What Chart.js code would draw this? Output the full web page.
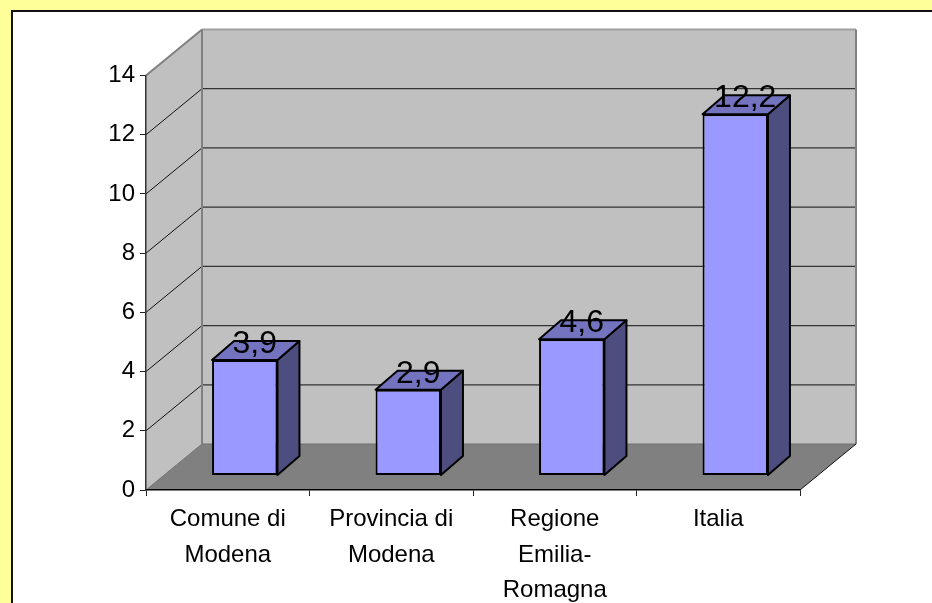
<!DOCTYPE html>
<html>
<head>
<meta charset="utf-8">
<style>
  html, body { margin: 0; padding: 0; width: 932px; height: 603px; overflow: hidden; background: #FFFF99; }
  #frame { position: absolute; left: 11px; top: 10px; right: 0; bottom: 0; background: #fff; border-left: 2px solid #111; border-top: 2px solid #111; }
  #wrap { position: absolute; left: 0; top: 0; width: 932px; height: 603px; }
</style>
<script src="https://cdn.jsdelivr.net/npm/chart.js@4"></script>
</head>
<body>
<div id="frame"></div>
<div id="wrap"><canvas id="chart"></canvas></div>
<script>
const categories = [['Comune di', 'Modena'], ['Provincia di', 'Modena'], ['Regione', 'Emilia-', 'Romagna'], ['Italia']];
const values = [3.9, 2.9, 4.6, 12.2];
const yMax = 14;
const yStep = 2;

// depth of the fake 3D box and how far the bars sit inside it
const depthX = 56, depthY = 46;
const barShiftX = 17, barShiftY = 14.5;
const barDepthX = 22, barDepthY = 19;

function poly(ctx, pts, fill, stroke, lineWidth) {
  ctx.beginPath();
  pts.forEach((p, i) => i ? ctx.lineTo(p[0], p[1]) : ctx.moveTo(p[0], p[1]));
  ctx.closePath();
  if (fill) { ctx.fillStyle = fill; ctx.fill(); }
  if (stroke) { ctx.strokeStyle = stroke; ctx.lineWidth = lineWidth; ctx.lineJoin = 'round'; ctx.stroke(); }
}

function line(ctx, x1, y1, x2, y2, color, width) {
  ctx.beginPath();
  ctx.moveTo(x1, y1);
  ctx.lineTo(x2, y2);
  ctx.strokeStyle = color;
  ctx.lineWidth = width;
  ctx.stroke();
}

const box3d = {
  id: 'box3d',
  beforeDraw(chart) {
    const ctx = chart.ctx;
    const { left, right, top, bottom } = chart.chartArea;
    const y = chart.scales.y;
    ctx.save();
    // back wall, side wall, floor
    poly(ctx, [[left + depthX, top - depthY], [right + depthX, top - depthY], [right + depthX, bottom - depthY], [left + depthX, bottom - depthY]], '#C0C0C0');
    poly(ctx, [[left, top], [left + depthX, top - depthY], [left + depthX, bottom - depthY], [left, bottom]], '#C0C0C0');
    poly(ctx, [[left, bottom], [left + depthX, bottom - depthY], [right + depthX, bottom - depthY], [right, bottom]], '#808080');

    y.ticks.forEach(t => {
      if (t.value === 0 || t.value === yMax) return;
      const py = y.getPixelForValue(t.value);
      line(ctx, left, py, left + depthX, py - depthY, '#111', 1);
      line(ctx, left + depthX, py - depthY, right + depthX, py - depthY, '#333', 1.2);
    });

    line(ctx, left + depthX, top - depthY, right + depthX, top - depthY, '#A0A0A0', 2);
    line(ctx, left + depthX, top - depthY, left + depthX, bottom - depthY, '#808080', 2);
    line(ctx, right + depthX, top - depthY, right + depthX, bottom - depthY, '#808080', 2);
    line(ctx, left, top, left + depthX, top - depthY, '#808080', 2);
    line(ctx, left, bottom, left + depthX, bottom - depthY, '#707070', 1);
    line(ctx, left + depthX, bottom - depthY, right + depthX, bottom - depthY, '#707070', 1);
    line(ctx, right, bottom, right + depthX, bottom - depthY, '#111', 1);
    ctx.restore();
  },
  beforeDatasetDraw(chart) {
    chart.ctx.save();
    chart.ctx.translate(barShiftX, -barShiftY);
  },
  afterDatasetDraw(chart, args) {
    const ctx = chart.ctx;
    args.meta.data.forEach(bar => {
      const l = bar.x - bar.width / 2, r = bar.x + bar.width / 2;
      const t = bar.y, b = bar.base;
      poly(ctx, [[r, t], [r + barDepthX, t - barDepthY], [r + barDepthX, b - barDepthY], [r, b]], '#4D4D80', '#000', 2);
      poly(ctx, [[l, t], [l + barDepthX, t - barDepthY], [r + barDepthX, t - barDepthY], [r, t]], '#7373BF', '#000', 2);
    });
    ctx.font = '32px "Liberation Sans"';
    ctx.fillStyle = '#000';
    ctx.textAlign = 'center';
    ctx.textBaseline = 'alphabetic';
    args.meta.data.forEach((bar, i) => {
      ctx.fillText(String(values[i]).replace('.', ','), bar.x + 10, bar.y - 7);
    });
    ctx.restore();
  }
};

new Chart(document.getElementById('chart'), {
  type: 'bar',
  data: {
    labels: categories,
    datasets: [{
      data: values,
      backgroundColor: '#9999FF',
      borderColor: '#000',
      borderWidth: 2,
      borderSkipped: false,
      barPercentage: 0.4,
      categoryPercentage: 1,
      clip: false
    }]
  },
  options: {
    responsive: true,
    maintainAspectRatio: false,
    animation: false,
    layout: { padding: { left: 0, top: 75.5, right: 132, bottom: 0 } },
    plugins: { legend: { display: false }, tooltip: { enabled: false } },
    scales: {
      x: {
        afterFit: s => { s.height = 113; },
        grid: { drawOnChartArea: false, color: '#222', tickLength: 6, lineWidth: 1 },
        border: { color: '#000', width: 1.5 },
        ticks: {
          color: '#000',
          maxRotation: 0,
          autoSkip: false,
          padding: 6,
          font: { family: '"Liberation Sans"', size: 24, lineHeight: 1.47 }
        }
      },
      y: {
        min: 0,
        max: yMax,
        afterFit: s => { s.width = 146; },
        grid: { drawOnChartArea: false, color: '#222', tickLength: 6, lineWidth: 1 },
        border: { color: '#333', width: 1.5 },
        ticks: {
          stepSize: yStep,
          color: '#000',
          padding: 5,
          font: { family: '"Liberation Sans"', size: 24 }
        }
      }
    }
  },
  plugins: [box3d]
});
</script>
</body>
</html>
